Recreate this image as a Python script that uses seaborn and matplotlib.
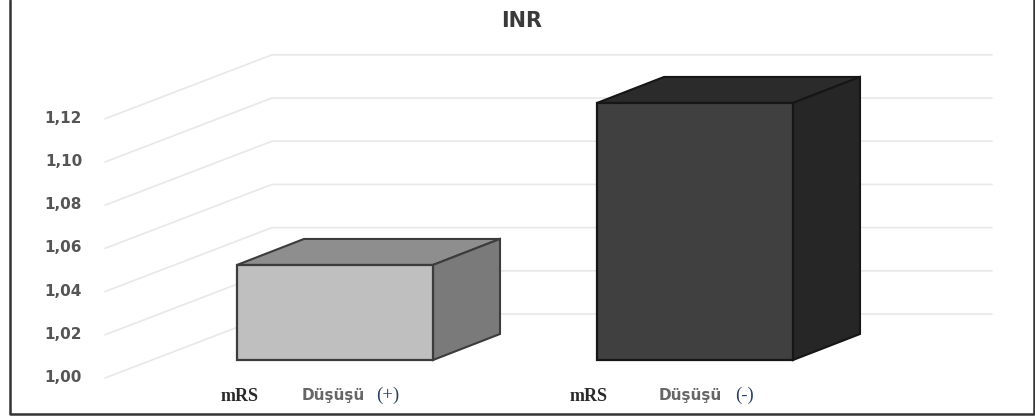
import seaborn as sns
import matplotlib.pyplot as plt
import pandas as pd
from matplotlib.lines import Line2D
from matplotlib.patches import Polygon
from matplotlib.transforms import ScaledTranslation

# values
categories = ['mRS Düşüşü (+)', 'mRS Düşüşü (-)']
inr_values = [1.044, 1.119]
tick_values = [1.00, 1.02, 1.04, 1.06, 1.08, 1.10, 1.12]
tick_labels = ['1,00', '1,02', '1,04', '1,06', '1,08', '1,10', '1,12']
label_words = [('mRS', 'Düşüşü', '(+)'), ('mRS', 'Düşüşü', '(-)')]
base = 1.00

W, H = 1035, 419
PX_X = 360.0   # pixels for one category step
PX_Y = 2160.0  # pixels for one INR unit
LEFT, RIGHT, BOTTOM, TOP = 105, 992, 378, 36

face_colors = ['#bfbfbf', '#404040']
top_colors = ['#8e8e8e', '#2b2b2b']
side_colors = ['#7a7a7a', '#262626']
edge_colors = ['#3c3c3c', '#161616']

sns.set_theme(style='white')
plt.rcParams['font.family'] = ['DejaVu Sans']

fig = plt.figure(figsize=(W / 100, H / 100), dpi=100)
ax = fig.add_axes([LEFT / W, (H - BOTTOM) / H, (RIGHT - LEFT) / W, (BOTTOM - TOP) / H])

data = pd.DataFrame({'Group': categories, 'Height': [v - base for v in inr_values]})
sns.barplot(data=data, x='Group', y='Height', hue='Group', palette=face_colors,
            width=196 / PX_X, legend=False, ax=ax, zorder=3, saturation=1)

ax.set_xlim((LEFT - 335) / PX_X, (RIGHT - 335) / PX_X)
ax.set_ylim(0, (BOTTOM - TOP) / PX_Y)

# back wall and left wall grid
wall_dx, wall_dy = 167 / PX_X, 64 / PX_Y
x0, x1 = ax.get_xlim()
grid_color = '#e8e8e8'
for t in tick_values:
    y = t - base
    ax.plot([x0, x0 + wall_dx, x1], [y, y + wall_dy, y + wall_dy], color=grid_color,
            lw=1.2, zorder=1, clip_on=False, solid_joinstyle='miter')

# extrude each bar
lift = 18 / PX_Y
depth_x, depth_y = 67 / PX_X, 26 / PX_Y
for i, bar in enumerate(ax.patches):
    bar.set_y(lift)
    bar.set_edgecolor(edge_colors[i])
    bar.set_linewidth(1.6)
    xl = bar.get_x()
    xr = xl + bar.get_width()
    yb = lift
    yt = lift + bar.get_height()
    ax.add_patch(Polygon([(xl, yt), (xr, yt), (xr + depth_x, yt + depth_y), (xl + depth_x, yt + depth_y)],
                         closed=True, fc=top_colors[i], ec=edge_colors[i], lw=1.5, zorder=2.5))
    ax.add_patch(Polygon([(xr, yb), (xr, yt), (xr + depth_x, yt + depth_y), (xr + depth_x, yb + depth_y)],
                         closed=True, fc=side_colors[i], ec=edge_colors[i], lw=1.5, zorder=2.5))

ax.set_yticks([t - base for t in tick_values], tick_labels, fontsize=11, color='#555555', fontweight='bold')
ax.tick_params(axis='y', length=0, pad=16.5)
ax.set_xticks([])
ax.set_xlabel('')
ax.set_ylabel('')
sns.despine(ax=ax, left=True, bottom=True)

# tick labels sit slightly above the wall lines
nudge = ScaledTranslation(0, 2 / 100, fig.dpi_scale_trans)
for lab in ax.get_yticklabels():
    lab.set_transform(lab.get_transform() + nudge)

# category labels, three pieces each
offsets = [(-95, -2, 53), (-106, -5, 50)]
for i, words in enumerate(label_words):
    off = offsets[i]
    ax.annotate(words[0], (i, 0), xytext=(off[0] * 0.72, -18 * 0.72), textcoords='offset points',
                ha='center', va='center', fontsize=13, fontweight='bold', family='Liberation Serif',
                color='#2a2a2a', annotation_clip=False)
    ax.annotate(words[1], (i, 0), xytext=(off[1] * 0.72, -17 * 0.72), textcoords='offset points',
                ha='center', va='center', fontsize=11, fontweight='bold', color='#666666',
                annotation_clip=False)
    ax.annotate(words[2], (i, 0), xytext=(off[2] * 0.72, -17 * 0.72), textcoords='offset points',
                ha='center', va='center', fontsize=13.5, family='Liberation Serif',
                color='#2b3f66', annotation_clip=False)

fig.text(522 / W, 1 - 21 / H, 'INR', ha='center', va='center', fontsize=15, fontweight='bold', color='#3a3a3a')

# frame of the pasted picture (no top edge)
frame = Line2D([10 / W, 10 / W, 1034 / W, 1034 / W], [1, 1 - 414 / H, 1 - 414 / H, 1],
               transform=fig.transFigure, color='#333333', lw=1.8)
fig.add_artist(frame)

fig.savefig('out.png', dpi=100)
